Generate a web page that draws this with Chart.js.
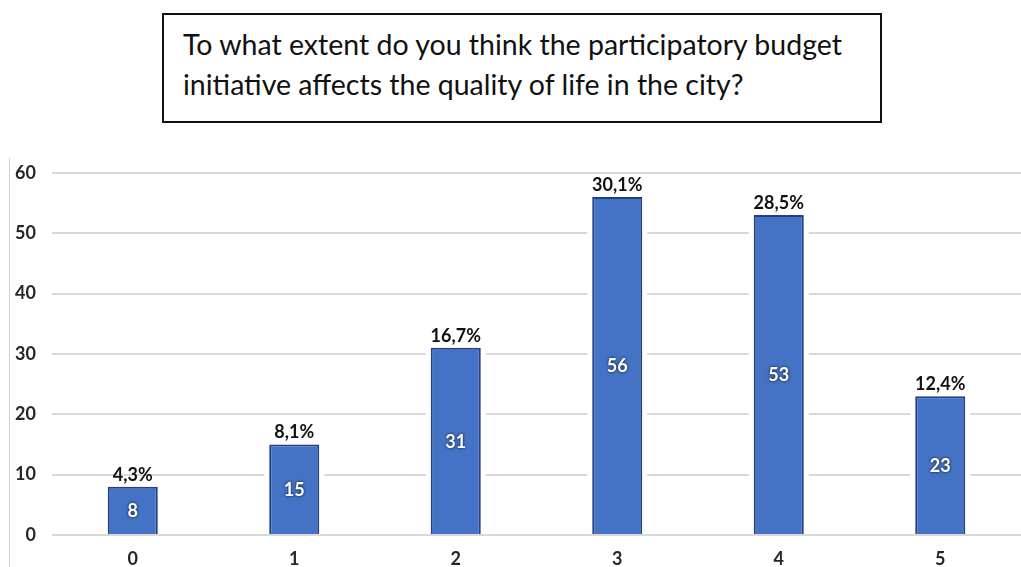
<!DOCTYPE html>
<html>
<head>
<meta charset="utf-8">
<script src="https://cdn.jsdelivr.net/npm/chart.js@4.4.1/dist/chart.umd.min.js"></script>
<style>
  html, body { margin: 0; padding: 0; background: #fff; }
  body { width: 1021px; height: 567px; position: relative; overflow: hidden; font-family: Lato, sans-serif; }
  .question {
    position: absolute; left: 162px; top: 13px; width: 716px; height: 106px;
    border: 2px solid #111; box-sizing: content-box;
  }
  .question p {
    margin: 0; padding: 9px 0 0 19px; font-size: 28.5px; line-height: 40px; color: #111;
  }
  .frame {
    position: absolute; left: 9px; top: 158px; width: 1px; height: 409px; background: #d0d0d0;
  }
  .chart-box { position: absolute; left: 0; top: 146px; width: 1021px; height: 421px; }
</style>
</head>
<body>
<div class="question"><p>To what extent do you think the participatory budget<br>initiative affects the quality of life in the city?</p></div>
<div class="frame"></div>
<div class="chart-box"><canvas id="ratingChart" width="1021" height="421"></canvas></div>

<script>
// Respostas por nota (0 a 5)
const ratings = ['0', '1', '2', '3', '4', '5'];
const counts = [8, 15, 31, 56, 53, 23];
const shares = ['4,3%', '8,1%', '16,7%', '30,1%', '28,5%', '12,4%'];
const yTicks = [0, 10, 20, 30, 40, 50, 60];

// Fundo branco em volta das barras (corta as linhas de grade)
const barHalo = {
  id: 'barHalo',
  beforeDatasetsDraw(chart) {
    const ctx = chart.ctx;
    ctx.save();
    ctx.fillStyle = '#fff';
    chart.getDatasetMeta(0).data.forEach(bar => {
      const w = bar.width;
      ctx.fillRect(bar.x - w / 2 - 5, bar.y - 2, w + 10, bar.base - bar.y + 1);
    });
    ctx.restore();
  }
};

// Rótulos: valor dentro da barra e percentual acima
const barLabels = {
  id: 'barLabels',
  afterDatasetsDraw(chart) {
    const ctx = chart.ctx;
    ctx.save();
    ctx.textAlign = 'center';
    chart.getDatasetMeta(0).data.forEach((bar, i) => {
      const mid = (bar.y + bar.base) / 2;
      ctx.font = 'bold 18px Lato';
      ctx.textBaseline = 'middle';
      ctx.shadowColor = 'rgba(0,0,0,0.85)';
      ctx.shadowBlur = 3;
      ctx.fillStyle = '#fff';
      ctx.fillText(counts[i], bar.x, mid + 1);
      ctx.shadowBlur = 0;
      ctx.shadowColor = 'transparent';
      ctx.fillStyle = '#111';
      ctx.textBaseline = 'bottom';
      ctx.fillText(shares[i], bar.x, bar.y - 3);
    });
    ctx.restore();
  }
};

function drawChart() {
  new Chart(document.getElementById('ratingChart'), {
    type: 'bar',
    data: {
      labels: ratings,
      datasets: [{
        data: counts,
        backgroundColor: '#4472C4',
        borderColor: '#203F86',
        borderWidth: 2,
        barPercentage: 0.31,
        categoryPercentage: 1
      }]
    },
    options: {
      responsive: false,
      animation: false,
      layout: { padding: { top: 4, right: -2, bottom: 0, left: 0 } },
      plugins: { legend: { display: false }, tooltip: { enabled: false } },
      scales: {
        x: {
          grid: { display: false, drawTicks: false },
          border: { display: false },
          ticks: { color: '#262626', font: { family: 'Lato', size: 18, weight: 'bold' }, padding: 13 },
          afterFit(scale) { scale.height = 32; }
        },
        y: {
          min: 0,
          max: 60,
          afterBuildTicks(scale) { scale.ticks = yTicks.map(v => ({ value: v })); },
          grid: { color: '#d9d9d9', lineWidth: 2, drawTicks: false },
          border: { display: false },
          ticks: { color: '#262626', font: { family: 'Lato', size: 18, weight: 'bold' }, padding: 16 },
          afterFit(scale) { scale.width = 52; }
        }
      }
    },
    plugins: [barHalo, barLabels]
  });
}

// Espera a fonte do canvas carregar antes de desenhar
document.fonts.load('bold 18px Lato').then(drawChart, drawChart);
</script>
</body>
</html>
